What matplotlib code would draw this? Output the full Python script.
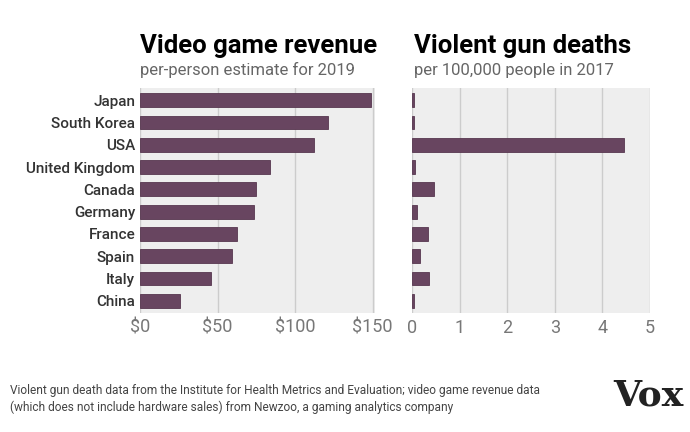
import matplotlib.pyplot as plt

countries = ['Japan', 'South Korea', 'USA', 'United Kingdom', 'Canada',
             'Germany', 'France', 'Spain', 'Italy', 'China']
revenue = [149, 121, 112, 83.5, 74.7, 73.4, 62.6, 59.4, 45.6, 25.6]
gun_deaths = [0.04, 0.04, 4.45, 0.06, 0.47, 0.11, 0.33, 0.16, 0.35, 0.04]

rev_ticks = [0, 50, 100, 150]
rev_labels = ['$0', '$50', '$100', '$150']
death_ticks = [0, 1, 2, 3, 4, 5]

plt.rcParams['font.family'] = 'Roboto'
bar_color = '#684560'
bg = '#eeeeee'
W, H = 690, 432

fig = plt.figure(figsize=(6.9, 4.32), dpi=100)
ax1 = fig.add_axes([140 / W, 1 - 313 / H, 235 / W, 225 / H])
ax2 = fig.add_axes([412 / W, 1 - 313 / H, 238 / W, 225 / H])

ys = list(range(len(countries)))
for ax, vals, ticks, xmax in [(ax1, revenue, rev_ticks, 151.5), (ax2, gun_deaths, death_ticks, 5.0)]:
    ax.set_facecolor(bg)
    ax.barh(ys, vals, height=0.62, color=bar_color, edgecolor='#57364f', linewidth=0.6, zorder=3)
    ax.set_xlim(0, xmax)
    ax.set_ylim(len(countries) - 0.45, -0.55)
    ax.set_xticks(ticks)
    ax.grid(axis='x', color='#cccccc', linewidth=1, zorder=0)
    for s in ax.spines.values():
        s.set_visible(False)
    ax.tick_params(axis='x', length=0, labelsize=13, labelcolor='#777777', pad=4)
    ax.tick_params(axis='y', length=0)

ax1.set_xticklabels(rev_labels)
ax1.set_yticks(ys)
ax1.set_yticklabels(countries, fontsize=11, fontweight='semibold', color='#333333')
ax2.set_yticks([])

fig.text(140 / W, 1 - 46 / H, 'Video game revenue', fontsize=18.5, fontweight='bold', va='center')
fig.text(140 / W, 1 - 70 / H, 'per-person estimate for 2019', fontsize=12, color='#666666', va='center')
fig.text(414 / W, 1 - 46 / H, 'Violent gun deaths', fontsize=18.5, fontweight='bold', va='center')
fig.text(414 / W, 1 - 70 / H, 'per 100,000 people in 2017', fontsize=12, color='#666666', va='center')

fig.text(10 / W, 1 - 399 / H,
         'Violent gun death data from the Institute for Health Metrics and Evaluation; video game revenue data\n'
         '(which does not include hardware sales) from Newzoo, a gaming analytics company',
         fontsize=8.6, color='#444444', va='center', linespacing=1.4)
fig.text(648 / W, 1 - 396 / H, 'Vox', fontsize=26, fontweight='bold', family='DejaVu Serif',
         ha='center', va='center', color='#222222')

fig.savefig('out.png', dpi=100)
